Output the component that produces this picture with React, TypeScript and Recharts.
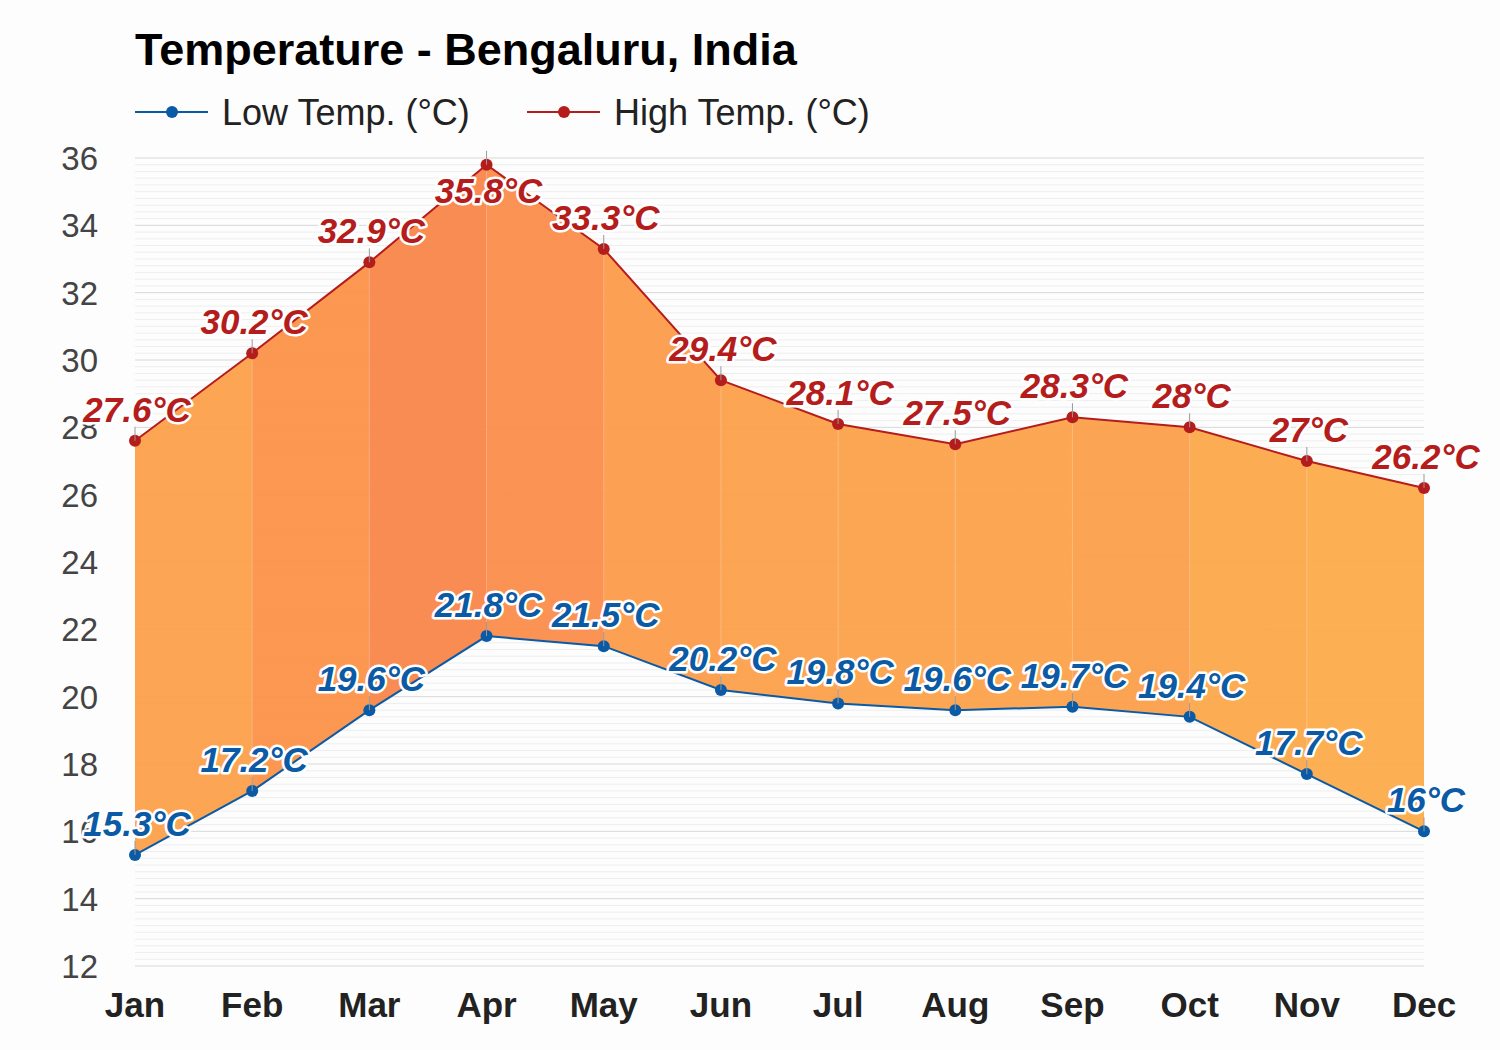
import {
  ComposedChart,
  Area,
  Line,
  XAxis,
  YAxis,
  CartesianGrid,
  LabelList,
  ReferenceLine,
} from 'recharts'

const months = ['Jan', 'Feb', 'Mar', 'Apr', 'May', 'Jun', 'Jul', 'Aug', 'Sep', 'Oct', 'Nov', 'Dec']
const lowTemps = [15.3, 17.2, 19.6, 21.8, 21.5, 20.2, 19.8, 19.6, 19.7, 19.4, 17.7, 16]
const highTemps = [27.6, 30.2, 32.9, 35.8, 33.3, 29.4, 28.1, 27.5, 28.3, 28, 27, 26.2]
const yTicks = [12, 14, 16, 18, 20, 22, 24, 26, 28, 30, 32, 34, 36]
// faint minor grid every 0.2 degrees
const minorTicks = Array.from({ length: 121 }, (_, i) => Math.round((12 + i * 0.2) * 10) / 10).filter(
  (v) => !yTicks.includes(v)
)
// fill colour of each month-to-month band
const bandColors = [
  '#fca04a', '#fb9248', '#f9864a', '#fa8d4a', '#fc9c4a', '#fca04a',
  '#fca24b', '#fca24b', '#fb9f4a', '#fca84a', '#fcab4a',
]

const LOW_COLOR = '#0b5aa5'
const HIGH_COLOR = '#b51d1d'
const FONT = 'Arial, "Liberation Sans", Helvetica, sans-serif'
const PLOT_TOP = 158

const data = months.map((m, i) => ({
  month: m,
  low: lowTemps[i],
  high: highTemps[i],
  range: [lowTemps[i], highTemps[i]],
}))

function makeLabel(color: string) {
  return (props: any) => {
    const { x, y, value } = props
    const below = y - 40 < PLOT_TOP
    const ty = below ? y + 38 : y - 19
    return (
      <g>
        <line x1={x} y1={y} x2={x} y2={y - 14} stroke="#999" strokeWidth={1} />
        <text
          x={x + 2}
          y={ty}
          textAnchor="middle"
          fontFamily={FONT}
          fontSize={35}
          fontWeight="bold"
          fontStyle="italic"
          fill={color}
          stroke="#fff"
          strokeWidth={5}
          strokeLinejoin="round"
          paintOrder="stroke"
        >
          {value}°C
        </text>
      </g>
    )
  }
}

const XTick = (props: any) => {
  const { x, payload } = props
  return (
    <text x={x} y={1017} textAnchor="middle" fontFamily={FONT} fontSize={35} fontWeight="bold" fill="#222">
      {payload.value}
    </text>
  )
}

const YTick = (props: any) => {
  const { y, payload } = props
  return (
    <text x={98} y={y + 12} textAnchor="end" fontFamily={FONT} fontSize={33} fill="#444">
      {payload.value}
    </text>
  )
}

const legendItems = [
  { name: 'Low Temp. (°C)', color: LOW_COLOR, x: 135 },
  { name: 'High Temp. (°C)', color: HIGH_COLOR, x: 527 },
]

export default function App() {
  return (
    <div style={{ position: 'absolute', left: 0, top: 0, width: 1500, height: 1050, background: '#fdfdfd' }}>
      <svg width={1500} height={140} style={{ position: 'absolute', left: 0, top: 0 }}>
        <text x={135} y={65} fontFamily={FONT} fontSize={45} fontWeight="bold" fill="#000">
          Temperature - Bengaluru, India
        </text>
        {legendItems.map((it) => (
          <g key={it.name}>
            <line x1={it.x} y1={112} x2={it.x + 73} y2={112} stroke={it.color} strokeWidth={2} />
            <circle cx={it.x + 37} cy={112} r={6} fill={it.color} />
            <text x={it.x + 87} y={125} fontFamily={FONT} fontSize={36} fill="#222">
              {it.name}
            </text>
          </g>
        ))}
      </svg>
      <div style={{ position: 'absolute', left: 0, top: 0 }}>
        <ComposedChart
          width={1500}
          height={1050}
          data={data}
          margin={{ top: PLOT_TOP, right: 76, left: 75, bottom: 44 }}
        >
          <defs>
            <linearGradient id="bandFill" x1="0" y1="0" x2="1" y2="0">
              {bandColors.flatMap((c, i) => [
                <stop key={`a${i}`} offset={i / 11} stopColor={c} />,
                <stop key={`b${i}`} offset={(i + 1) / 11} stopColor={c} />,
              ])}
            </linearGradient>
          </defs>
          <CartesianGrid vertical={false} horizontalValues={minorTicks} stroke="#eeeeee" strokeWidth={1} />
          <CartesianGrid vertical={false} stroke="#d8d8d8" strokeWidth={1} />
          <XAxis
            dataKey="month"
            axisLine={false}
            tickLine={false}
            height={40}
            tick={<XTick />}
            interval={0}
          />
          <YAxis
            domain={[12, 36]}
            ticks={yTicks}
            width={60}
            axisLine={false}
            tickLine={false}
            tick={<YTick />}
            interval={0}
          />
          <Area
            dataKey="range"
            stroke="none"
            fill="url(#bandFill)"
            fillOpacity={0.95}
            isAnimationActive={false}
          />
          {data.slice(1, 11).map((d) => (
            <ReferenceLine
              key={d.month}
              segment={[
                { x: d.month, y: d.low },
                { x: d.month, y: d.high },
              ]}
              stroke="#ffffff"
              strokeOpacity={0.25}
            />
          ))}
          <Line
            dataKey="high"
            stroke={HIGH_COLOR}
            strokeWidth={2}
            dot={{ r: 6, fill: HIGH_COLOR, stroke: HIGH_COLOR, strokeWidth: 0 }}
            isAnimationActive={false}
          >
            <LabelList dataKey="high" content={makeLabel(HIGH_COLOR)} />
          </Line>
          <Line
            dataKey="low"
            stroke={LOW_COLOR}
            strokeWidth={2}
            dot={{ r: 6, fill: LOW_COLOR, stroke: LOW_COLOR, strokeWidth: 0 }}
            isAnimationActive={false}
          >
            <LabelList dataKey="low" content={makeLabel(LOW_COLOR)} />
          </Line>
        </ComposedChart>
      </div>
    </div>
  )
}
